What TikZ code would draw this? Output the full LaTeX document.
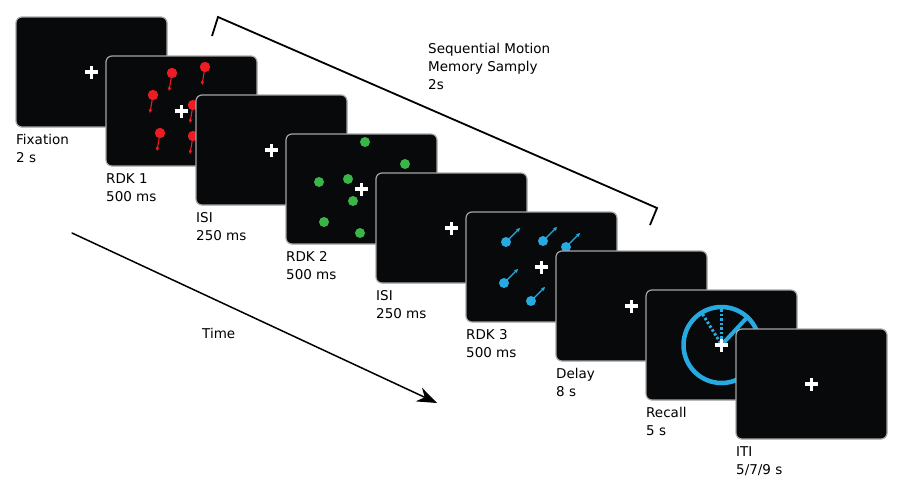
\documentclass[tikz,border=0pt]{standalone}
\usepackage{fontspec}
\setmainfont{DejaVu Sans}
\usetikzlibrary{positioning}
\usetikzlibrary{arrows.meta}

\definecolor{nero}{RGB}{8,9,11}
\definecolor{bordo}{RGB}{165,165,165}
\definecolor{rosso}{RGB}{236,28,36}
\definecolor{verde}{RGB}{57,181,74}
\definecolor{azzurro}{RGB}{39,170,225}

\begin{document}
\begin{tikzpicture}[
        x=1pt, y=-1pt,
        line cap=round,
        line join=round,
        font=\fontsize{13.5}{18}\selectfont,
        schermo/.style={draw=bordo, line width=1.2pt, fill=nero, rounded corners=6pt,
            minimum width=151pt, minimum height=110pt, inner sep=0pt, outer sep=0pt,
            anchor=north west},
        etichetta/.style={anchor=north west, align=left, inner sep=0pt},
        freccina/.style={line width=1.1pt, -{Stealth[length=4pt,width=4pt]}},
        pics/croce/.style={code={
            \fill[white] (-6.5,-1.7) rectangle (6.5,1.7);
            \fill[white] (-1.7,-6.5) rectangle (1.7,6.5);
        }}
    ]
        \useasboundingbox (0,0) rectangle (901,482);

        % Fissazione
        \node[schermo] (s1) at (16,17) {};
        \pic at (s1.center) {croce};
        \node[etichetta, below=7pt of s1.south west, anchor=north west] (l1) {Fixation\\2 s};

        % RDK 1: punti rossi verso il basso
        \node[schermo] (s2) at ([shift={(90,39)}]s1.north west) {};
        \begin{scope}[shift={(s2.north west)}]
            \foreach \x/\y in {66/17, 99/11, 47/39, 87/49, 54/77, 87/80}{
                \draw[rosso, freccina] (\x,\y) -- ++(-3,18);
                \fill[rosso] (\x,\y) circle (5.2);
            }
        \end{scope}
        \pic at (s2.center) {croce};
        \node[etichetta, below=7pt of s2.south west, anchor=north west] (l2) {RDK 1\\500 ms};

        % ISI
        \node[schermo] (s3) at ([shift={(90,39)}]s2.north west) {};
        \pic at (s3.center) {croce};
        \node[etichetta, below=7pt of s3.south west, anchor=north west] (l3) {ISI\\250 ms};

        % RDK 2: punti verdi
        \node[schermo] (s4) at ([shift={(90,39)}]s3.north west) {};
        \begin{scope}[shift={(s4.north west)}]
            \foreach \x/\y in {79/8, 119/30, 33/48, 62/45, 67/67, 38/88, 74/99}{
                \fill[verde] (\x,\y) circle (5);
            }
        \end{scope}
        \pic at (s4.center) {croce};
        \node[etichetta, below=7pt of s4.south west, anchor=north west] (l4) {RDK 2\\500 ms};

        % ISI
        \node[schermo] (s5) at ([shift={(90,39)}]s4.north west) {};
        \pic at (s5.center) {croce};
        \node[etichetta, below=7pt of s5.south west, anchor=north west] (l5) {ISI\\250 ms};

        % RDK 3: punti azzurri verso l'alto a destra
        \node[schermo] (s6) at ([shift={(90,39)}]s5.north west) {};
        \begin{scope}[shift={(s6.north west)}]
            \foreach \x/\y in {40/30, 77/29, 100/35, 38/71, 65/89}{
                \draw[azzurro, freccina] (\x,\y) -- ++(14,-14);
                \fill[azzurro] (\x,\y) circle (5);
            }
        \end{scope}
        \pic at (s6.center) {croce};
        \node[etichetta, below=7pt of s6.south west, anchor=north west] (l6) {RDK 3\\500 ms};

        % Delay
        \node[schermo] (s7) at ([shift={(90,39)}]s6.north west) {};
        \pic at (s7.center) {croce};
        \node[etichetta, below=7pt of s7.south west, anchor=north west] (l7) {Delay\\8 s};

        % Recall: ruota di risposta
        \node[schermo] (s8) at ([shift={(90,39)}]s7.north west) {};
        \begin{scope}[shift={(s8.center)}]
            \draw[azzurro, line width=4.5pt] (0,0) circle (38);
            \draw[azzurro, line width=4pt] (0,0) -- (26,-28);
            \draw[azzurro, line width=3pt, line cap=butt, dash pattern=on 2.5pt off 2pt]
                (0,-2) -- (0,-36);
            \draw[azzurro, line width=3pt, line cap=butt, dash pattern=on 2.5pt off 2pt]
                (-1,-2) -- (-19,-31);
        \end{scope}
        \pic at (s8.center) {croce};
        \node[etichetta, below=7pt of s8.south west, anchor=north west] (l8) {Recall\\5 s};

        % ITI
        \node[schermo] (s9) at ([shift={(90,39)}]s8.north west) {};
        \pic at (s9.center) {croce};
        \node[etichetta, below=7pt of s9.south west, anchor=north west] (l9) {ITI\\5/7/9 s};

        % parentesi sopra la sequenza
        \coordinate (b1) at (212,36);
        \coordinate (b2) at (218,17);
        \coordinate (b3) at (657,208);
        \coordinate (b4) at (650,225);
        \draw[line width=1.8pt, line cap=butt, line join=miter] (b1) -- (b2) -- (b3) -- (b4);
        \node[etichetta] (seq) at (428,43) {Sequential Motion\\Memory Samply\\2s};

        % asse del tempo
        \coordinate (t0) at (72,233);
        \coordinate (t1) at (437,403);
        \draw[line width=1.5pt, -{Stealth[length=20pt,width=15pt]}] (t0) -- (t1);
        \node[etichetta] (tempo) at (202,328) {Time};
    \end{tikzpicture}
\end{document}
